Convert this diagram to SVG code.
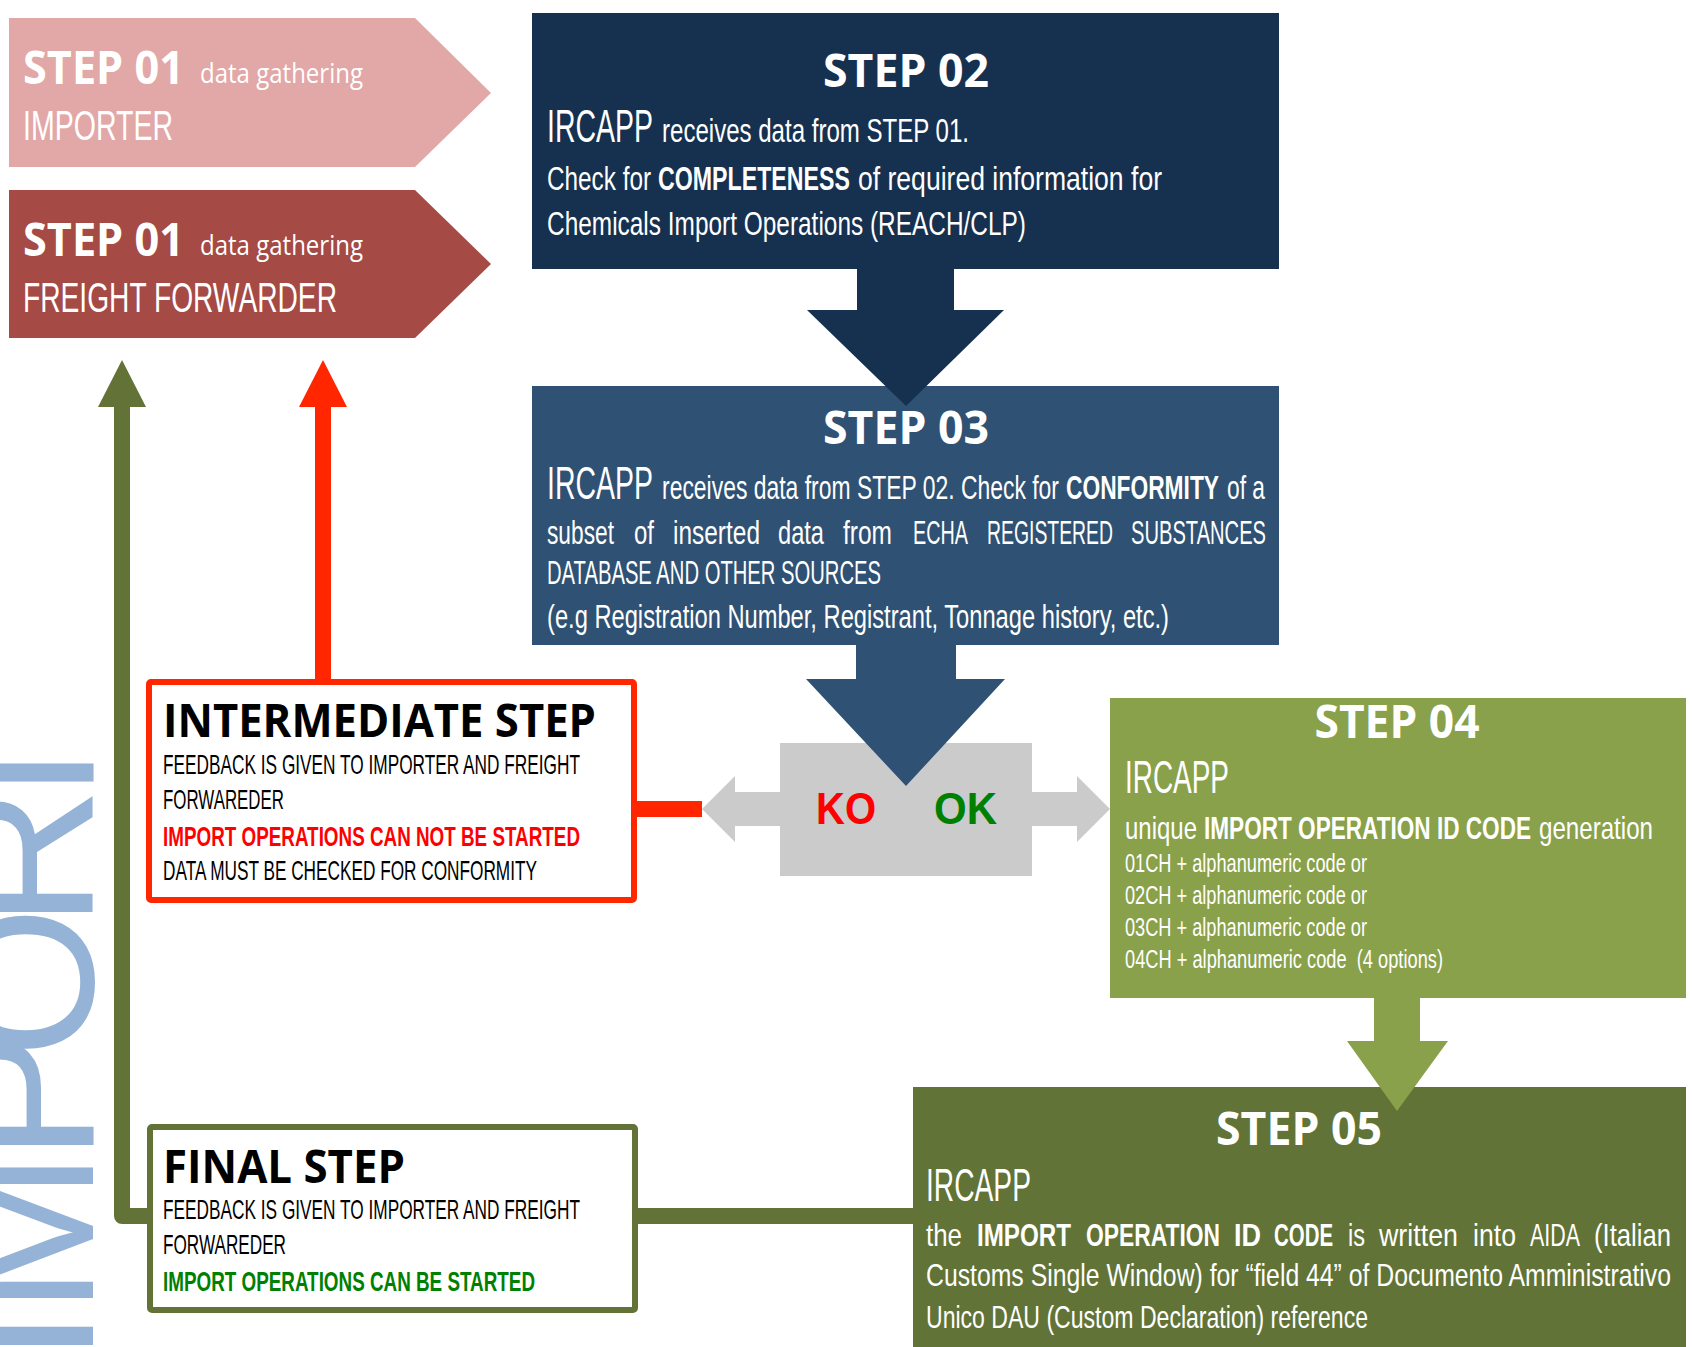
<svg xmlns="http://www.w3.org/2000/svg" width="1692" height="1347" viewBox="0 0 1692 1347">
<style>
.hd{font-family:"Open Sans","Liberation Sans",sans-serif;font-weight:700;fill:#fff}
.cn{font-family:"Liberation Sans Narrow","Liberation Sans",sans-serif;font-weight:400}
.w{fill:#fff}
.k{fill:#000}
.bd{font-weight:700}
.big{font-size:47px}
.md{font-size:34px}
.sm{font-size:25px}
.ib{font-size:28px}
.s5{font-size:32px}
</style>
<rect width="1692" height="1347" fill="#fff"/>
<text transform="rotate(-90)" y="93" font-family="Liberation Sans, sans-serif" font-size="195" fill="#95B3D7" x="-1363 -1314 -1161 -1058 -928 -832">IMPORT</text>

<g id="step01-importer">
<polygon points="9,18 415,18 491,93 415,167 9,167" fill="#E2A7A7"/>
<text class="hd" x="23" y="84" font-size="46" textLength="161" lengthAdjust="spacingAndGlyphs">STEP 01</text>
<text class="w" x="200" y="83" font-size="28" font-family="Open Sans, sans-serif" textLength="163" lengthAdjust="spacingAndGlyphs">data gathering</text>
<text class="cn w" x="23" y="140" font-size="43" textLength="150" lengthAdjust="spacingAndGlyphs">IMPORTER</text>
</g>

<g id="step01-forwarder">
<polygon points="9,190 415,190 491,264 415,338 9,338" fill="#A54A44"/>
<text class="hd" x="23" y="256" font-size="46" textLength="161" lengthAdjust="spacingAndGlyphs">STEP 01</text>
<text class="w" x="200" y="255" font-size="28" font-family="Open Sans, sans-serif" textLength="163" lengthAdjust="spacingAndGlyphs">data gathering</text>
<text class="cn w" x="23" y="312" font-size="43" textLength="314" lengthAdjust="spacingAndGlyphs">FREIGHT FORWARDER</text>
</g>

<g id="step02">
<rect x="532" y="13" width="747" height="256" fill="#16314F"/>
<text class="hd" x="906" y="87" font-size="46" text-anchor="middle" textLength="166" lengthAdjust="spacingAndGlyphs">STEP 02</text>
<text class="cn w big" x="547" y="142" textLength="106" lengthAdjust="spacingAndGlyphs">IRCAPP</text>
<text class="cn w md" x="662" y="142" textLength="307" lengthAdjust="spacingAndGlyphs">receives data from STEP 01.</text>
<text class="cn w md" x="547" y="190" textLength="104" lengthAdjust="spacingAndGlyphs">Check for</text>
<text class="cn w md bd" x="658" y="190" textLength="192" lengthAdjust="spacingAndGlyphs">COMPLETENESS</text>
<text class="cn w md" x="858" y="190" textLength="304" lengthAdjust="spacingAndGlyphs">of required information for</text>
<text class="cn w md" x="547" y="235" textLength="479" lengthAdjust="spacingAndGlyphs">Chemicals Import Operations (REACH/CLP)</text>
</g>

<g id="step03">
<rect x="532" y="386" width="747" height="259" fill="#2F5173"/>
<text class="hd" x="906" y="444" font-size="46" text-anchor="middle" textLength="166" lengthAdjust="spacingAndGlyphs">STEP 03</text>
<text class="cn w big" x="547" y="499" textLength="106" lengthAdjust="spacingAndGlyphs">IRCAPP</text>
<text class="cn w md" x="662" y="499" textLength="397" lengthAdjust="spacingAndGlyphs">receives data from STEP 02. Check for</text>
<text class="cn w md bd" x="1066" y="499" textLength="153" lengthAdjust="spacingAndGlyphs">CONFORMITY</text>
<text class="cn w md" x="1227" y="499" textLength="38" lengthAdjust="spacingAndGlyphs">of a</text>
<text class="cn w md" x="547" y="544" textLength="67" lengthAdjust="spacingAndGlyphs">subset</text>
<text class="cn w md" x="634" y="544" textLength="20" lengthAdjust="spacingAndGlyphs">of</text>
<text class="cn w md" x="673" y="544" textLength="87" lengthAdjust="spacingAndGlyphs">inserted</text>
<text class="cn w md" x="778" y="544" textLength="46" lengthAdjust="spacingAndGlyphs">data</text>
<text class="cn w md" x="843" y="544" textLength="49" lengthAdjust="spacingAndGlyphs">from</text>
<text class="cn w md" x="913" y="544" textLength="55" lengthAdjust="spacingAndGlyphs">ECHA</text>
<text class="cn w md" x="987" y="544" textLength="126" lengthAdjust="spacingAndGlyphs">REGISTERED</text>
<text class="cn w md" x="1131" y="544" textLength="135" lengthAdjust="spacingAndGlyphs">SUBSTANCES</text>
<text class="cn w md" x="547" y="584" textLength="334" lengthAdjust="spacingAndGlyphs">DATABASE AND OTHER SOURCES</text>
<text class="cn w md" x="547" y="628" textLength="622" lengthAdjust="spacingAndGlyphs">(e.g Registration Number, Registrant, Tonnage history, etc.)</text>
</g>

<g id="decision">
<rect x="780" y="743" width="252" height="133" fill="#CBCBCB"/>
<polygon points="780,792 735,792 735,776 702,809 735,842 735,826 780,826" fill="#CBCBCB"/>
<polygon points="1032,792 1077,792 1077,776 1110,809 1077,842 1077,826 1032,826" fill="#CBCBCB"/>
<text x="816" y="824" font-family="Liberation Sans, sans-serif" font-weight="700" font-size="44" fill="#FF0000" textLength="60" lengthAdjust="spacingAndGlyphs">KO</text>
<text x="934" y="824" font-family="Liberation Sans, sans-serif" font-weight="700" font-size="44" fill="#008000" textLength="63" lengthAdjust="spacingAndGlyphs">OK</text>
</g>

<g id="step04">
<rect x="1110" y="698" width="576" height="300" fill="#8AA14B"/>
<text class="hd" x="1397" y="738" font-size="46" text-anchor="middle" textLength="165" lengthAdjust="spacingAndGlyphs">STEP 04</text>
<text class="cn w big" x="1125" y="793" textLength="104" lengthAdjust="spacingAndGlyphs">IRCAPP</text>
<text class="cn w s5" x="1125" y="839" textLength="72" lengthAdjust="spacingAndGlyphs">unique</text>
<text class="cn w s5 bd" x="1204" y="839" textLength="327" lengthAdjust="spacingAndGlyphs">IMPORT OPERATION ID CODE</text>
<text class="cn w s5" x="1539" y="839" textLength="114" lengthAdjust="spacingAndGlyphs">generation</text>
<text class="cn w sm" x="1125" y="872" textLength="242" lengthAdjust="spacingAndGlyphs">01CH + alphanumeric code or</text>
<text class="cn w sm" x="1125" y="904" textLength="242" lengthAdjust="spacingAndGlyphs">02CH + alphanumeric code or</text>
<text class="cn w sm" x="1125" y="936" textLength="242" lengthAdjust="spacingAndGlyphs">03CH + alphanumeric code or</text>
<text class="cn w sm" x="1125" y="968" textLength="318" lengthAdjust="spacingAndGlyphs" xml:space="preserve">04CH + alphanumeric code  (4 options)</text>
</g>

<g id="step05">
<rect x="913" y="1087" width="773" height="260" fill="#617337"/>
<text class="hd" x="1299" y="1145" font-size="46" text-anchor="middle" textLength="166" lengthAdjust="spacingAndGlyphs">STEP 05</text>
<text class="cn w big" x="926" y="1201" textLength="105" lengthAdjust="spacingAndGlyphs">IRCAPP</text>
<text class="cn w s5" x="926" y="1246" textLength="36" lengthAdjust="spacingAndGlyphs">the</text>
<text class="cn w s5 bd" x="977" y="1246" textLength="94" lengthAdjust="spacingAndGlyphs">IMPORT</text>
<text class="cn w s5 bd" x="1086" y="1246" textLength="134" lengthAdjust="spacingAndGlyphs">OPERATION</text>
<text class="cn w s5 bd" x="1234" y="1246" textLength="27" lengthAdjust="spacingAndGlyphs">ID</text>
<text class="cn w s5 bd" x="1274" y="1246" textLength="59" lengthAdjust="spacingAndGlyphs">CODE</text>
<text class="cn w s5" x="1348" y="1246" textLength="17" lengthAdjust="spacingAndGlyphs">is</text>
<text class="cn w s5" x="1379" y="1246" textLength="79" lengthAdjust="spacingAndGlyphs">written</text>
<text class="cn w s5" x="1473" y="1246" textLength="43" lengthAdjust="spacingAndGlyphs">into</text>
<text class="cn w s5" x="1530" y="1246" textLength="50" lengthAdjust="spacingAndGlyphs">AIDA</text>
<text class="cn w s5" x="1594" y="1246" textLength="77" lengthAdjust="spacingAndGlyphs">(Italian</text>
<text class="cn w s5" x="926" y="1286" textLength="745" lengthAdjust="spacingAndGlyphs">Customs Single Window) for “field 44” of Documento Amministrativo</text>
<text class="cn w s5" x="926" y="1328" textLength="442" lengthAdjust="spacingAndGlyphs">Unico DAU (Custom Declaration) reference</text>
</g>

<g id="intermediate-step">
<rect x="149" y="682" width="485" height="218" rx="2" fill="#fff" stroke="#FF2600" stroke-width="6"/>
<text class="hd" x="163" y="737" font-size="46" textLength="433" lengthAdjust="spacingAndGlyphs" style="fill:#000">INTERMEDIATE STEP</text>
<text class="cn k ib" x="163" y="774" textLength="417" lengthAdjust="spacingAndGlyphs">FEEDBACK IS GIVEN TO IMPORTER AND FREIGHT</text>
<text class="cn k ib" x="163" y="809" textLength="121" lengthAdjust="spacingAndGlyphs">FORWAREDER</text>
<text class="cn ib bd" x="163" y="846" fill="#FF0000" textLength="417" lengthAdjust="spacingAndGlyphs">IMPORT OPERATIONS CAN NOT BE STARTED</text>
<text class="cn k ib" x="163" y="880" textLength="374" lengthAdjust="spacingAndGlyphs">DATA MUST BE CHECKED FOR CONFORMITY</text>
</g>

<g id="final-step">
<rect x="150" y="1127" width="485" height="183" rx="2" fill="#fff" stroke="#637337" stroke-width="6"/>
<text class="hd" x="163" y="1183" font-size="46" textLength="242" lengthAdjust="spacingAndGlyphs" style="fill:#000">FINAL STEP</text>
<text class="cn k ib" x="163" y="1219" textLength="417" lengthAdjust="spacingAndGlyphs">FEEDBACK IS GIVEN TO IMPORTER AND FREIGHT</text>
<text class="cn k ib" x="163" y="1254" textLength="123" lengthAdjust="spacingAndGlyphs">FORWAREDER</text>
<text class="cn ib bd" x="163" y="1291" fill="#008000" textLength="372" lengthAdjust="spacingAndGlyphs">IMPORT OPERATIONS CAN BE STARTED</text>
</g>

<g id="connectors">
<polygon points="857,269 954,269 954,310 1004,310 906,406 807,310 857,310" fill="#16314F"/>
<polygon points="856,645 956,645 956,679 1005,679 906,786 806,679 856,679" fill="#2F5173"/>
<polygon points="1374,998 1420,998 1420,1041 1448,1041 1397,1111 1347,1041 1374,1041" fill="#8AA14B"/>
<rect x="637" y="801" width="65" height="16" fill="#FF2600"/>
<path d="M323,679 V405" stroke="#FF2600" stroke-width="16" fill="none"/>
<polygon points="323,360 347,407 299,407" fill="#FF2600"/>
<path d="M122,405 V1216 H150" stroke="#637337" stroke-width="16" fill="none" stroke-linejoin="round"/>
<path d="M635,1216 H913" stroke="#637337" stroke-width="16" fill="none"/>
<polygon points="122,360 146,407 98,407" fill="#637337"/>
</g>
</svg>
